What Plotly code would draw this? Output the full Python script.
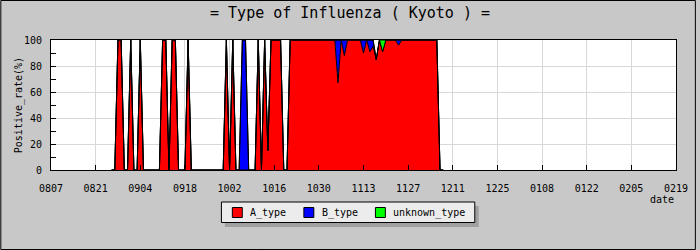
import pandas as pd
import plotly.graph_objects as go

# daily positive rate (%) from 2009-08-26 to 2009-12-08
start_date = "2009-08-26"
A_type = [0, 0, 100, 100, 0, 0, 100, 0, 0, 100,
          0, 0, 0, 0, 0, 0, 100, 100, 0, 100,
          100, 0, 0, 0, 100, 0, 0, 0, 0, 0,
          0, 0, 0, 0, 0, 0, 100, 0, 100, 0,
          0, 0, 0, 0, 0, 0, 100, 0, 100, 15,
          100, 100, 100, 100, 0, 0, 100, 100, 100, 100,
          100, 100, 100, 100, 100, 100, 100, 100, 100, 100,
          100, 67, 100, 88, 100, 100, 100, 100, 100, 90,
          100, 91, 95, 85, 100, 91, 100, 100, 100, 100,
          96, 100, 100, 100, 100, 100, 100, 100, 100, 100,
          100, 100, 100, 0, 0]
B_type = [0, 0, 0, 0, 0, 0, 0, 0, 0, 0,
          0, 0, 0, 0, 0, 0, 0, 0, 0, 0,
          0, 0, 0, 0, 0, 0, 0, 0, 0, 0,
          0, 0, 0, 0, 0, 0, 0, 0, 0, 0,
          0, 100, 100, 0, 0, 0, 0, 0, 0, 0,
          0, 0, 0, 0, 0, 0, 0, 0, 0, 0,
          0, 0, 0, 0, 0, 0, 0, 0, 0, 0,
          0, 33, 0, 12, 0, 0, 0, 0, 0, 10,
          0, 9, 5, 0, 0, 0, 0, 0, 0, 0,
          4, 0, 0, 0, 0, 0, 0, 0, 0, 0,
          0, 0, 0, 0, 0]
unknown_type = [0, 0, 0, 0, 0, 0, 0, 0, 0, 0,
                0, 0, 0, 0, 0, 0, 0, 0, 0, 0,
                0, 0, 0, 0, 0, 0, 0, 0, 0, 0,
                0, 0, 0, 0, 0, 0, 0, 0, 0, 0,
                0, 0, 0, 0, 0, 0, 0, 0, 0, 0,
                0, 0, 0, 0, 0, 0, 0, 0, 0, 0,
                0, 0, 0, 0, 0, 0, 0, 0, 0, 0,
                0, 0, 0, 0, 0, 0, 0, 0, 0, 0,
                0, 0, 0, 0, 0, 9, 0, 0, 0, 0,
                0, 0, 0, 0, 0, 0, 0, 0, 0, 0,
                0, 0, 0, 0, 0]
dates = pd.date_range(start_date, periods=len(A_type), freq="D")

series_names = ["A_type", "B_type", "unknown_type"]
series_values = [A_type, B_type, unknown_type]
series_colors = ["#ff0000", "#0000ff", "#00ff00"]

FONT = "DejaVu Sans Mono"
W, H = 700, 250
L, R, T, B = 51, 20, 40, 80
PW, PH = W - L - R, H - T - B

def px(x):
    return (x - L) / PW

def py(y):
    return (H - B - y) / PH

fig = go.Figure()
for name, vals, col in zip(series_names, series_values, series_colors):
    fig.add_trace(go.Scatter(
        x=dates, y=vals, name=name, stackgroup="one", mode="lines",
        line=dict(color="black", width=1, shape="linear"),
        fillcolor=col, showlegend=False, hoverinfo="skip"))

shapes = [
    # outer frame of the image
    dict(type="rect", xref="paper", yref="paper",
         x0=px(0.5), x1=px(699.5), y0=py(249.5), y1=py(0.5),
         line=dict(color="black", width=1), layer="above"),
    # legend shadow and box
    dict(type="rect", xref="paper", yref="paper",
         x0=px(226), x1=px(481.5), y0=py(227), y1=py(206),
         fillcolor="#a0a0a0", line=dict(width=0), layer="above"),
    dict(type="rect", xref="paper", yref="paper",
         x0=px(222.5), x1=px(477.5), y0=py(222.5), y1=py(202),
         fillcolor="#ececec", line=dict(color="black", width=1),
         layer="above"),
]
annotations = [
    dict(text="date", xref="paper", yref="paper", x=1, y=py(199),
         xanchor="right", yanchor="middle", showarrow=False,
         font=dict(family=FONT, size=10)),
    dict(text="Positive_rate(%)", xref="paper", yref="paper",
         x=px(19), y=0.5, xanchor="center", yanchor="middle",
         textangle=-90, showarrow=False,
         font=dict(family=FONT, size=10)),
]
legend_sq_x = [233.5, 305.5, 377.5]
legend_tx_x = [249.5, 321.5, 393.5]
for name, col, sx, tx in zip(series_names, series_colors, legend_sq_x, legend_tx_x):
    shapes.append(dict(type="rect", xref="paper", yref="paper",
                       x0=px(sx), x1=px(sx + 10), y0=py(217.5), y1=py(207.5),
                       fillcolor=col, line=dict(color="black", width=1),
                       layer="above"))
    annotations.append(dict(text=name, xref="paper", yref="paper",
                            x=px(tx), y=py(212.5), xanchor="left",
                            yanchor="middle", showarrow=False,
                            font=dict(family=FONT, size=10)))

fig.update_layout(
    width=W, height=H,
    margin=dict(l=L, r=R, t=T, b=B, pad=0),
    paper_bgcolor="#c8c8c8", plot_bgcolor="white",
    font=dict(family=FONT, size=10, color="black"),
    title=dict(text="= Type of Influenza ( Kyoto ) =",
               font=dict(family=FONT, size=15, color="black"),
               x=0.5, xref="container", xanchor="center",
               y=1 - 13 / H, yref="container", yanchor="middle"),
    showlegend=False,
    xaxis=dict(type="date", range=["2009-08-07", "2010-02-19"],
               tick0="2009-08-07", dtick=14 * 86400000, tickformat="%m%d",
               showgrid=True, gridcolor="#d8d8d8", gridwidth=1,
               ticks="inside", ticklen=5, tickcolor="black",
               showline=True, linecolor="black", linewidth=1, mirror=True,
               zeroline=False, ticklabelstandoff=9,
               tickfont=dict(family=FONT, size=10)),
    yaxis=dict(range=[0, 100], dtick=20, tick0=0,
               showgrid=True, gridcolor="#d8d8d8", gridwidth=1,
               ticks="inside", ticklen=5, tickcolor="black",
               minor=dict(dtick=10, ticks="inside", ticklen=5,
                          tickcolor="black", showgrid=False),
               showline=True, linecolor="black", linewidth=1, mirror=True,
               zeroline=False, ticklabelstandoff=6,
               tickfont=dict(family=FONT, size=10)),
    annotations=annotations,
    shapes=shapes,
)

fig.write_html("out.html")
